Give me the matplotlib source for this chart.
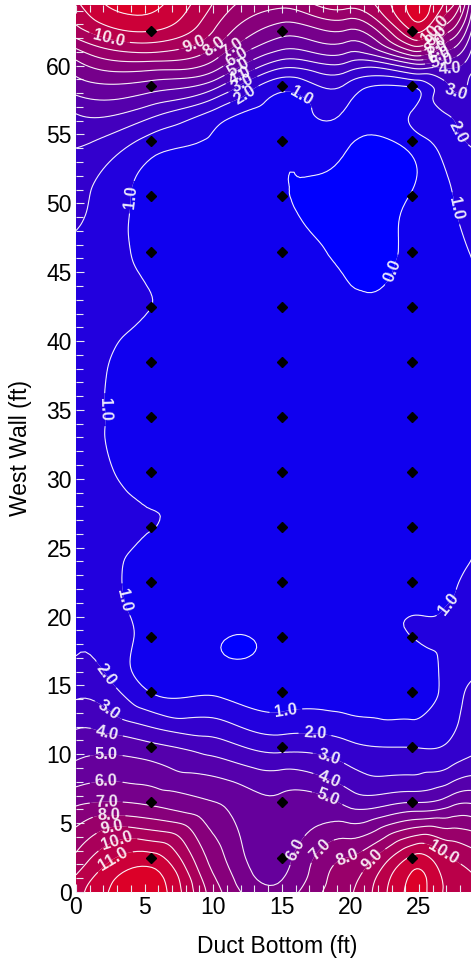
import matplotlib
matplotlib.use("Agg")
import matplotlib.pyplot as plt
import matplotlib.tri as mtri
import numpy as np
from matplotlib.colors import LinearSegmentedColormap, Normalize
from matplotlib.ticker import FixedLocator, MultipleLocator


# sampling locations (ft)
well_x = [5.5, 15.0, 24.5]
well_y = [2.5, 6.5, 10.5, 14.5, 18.5, 22.5, 26.5, 30.5,
          34.5, 38.5, 42.5, 46.5, 50.5, 54.5, 58.5, 62.5]

# gridded surface (rows = grid_y, cols = grid_x)
grid_x = [0.0, 5.5, 10.25, 15.0, 19.75, 24.5, 27.25, 30.0]
grid_y = [0.0, 2.5, 6.5, 10.5, 14.5, 18.5, 22.5, 26.5, 30.5, 34.5,
          38.5, 42.5, 46.5, 50.5, 54.5, 56.5, 58.5, 60.5, 62.5, 64.5]
grid_z = [
    [10.6, 12.6, 8.3, 6.4, 8.8, 12.3, 10.7, 10.0],
    [9.2, 11.4, 7.4, 5.6, 8.0, 11.2, 10.0, 9.0],
    [6.8, 6.8, 6.0, 5.2, 4.75, 5.0, 5.6, 5.5],
    [4.6, 4.3, 3.5, 2.7, 2.3, 2.0, 2.2, 3.0],
    [2.8, 0.97, 0.85, 0.5, 0.45, 0.35, 1.5, 2.6],
    [1.8, 0.65, 0.08, 0.3, 0.3, 1.0, 1.2, 1.6],
    [1.5, 0.5, 0.35, 0.3, 0.3, 0.5, 0.9, 1.2],
    [1.4, 1.02, 0.35, 0.25, 0.3, 0.35, 0.7, 1.1],
    [1.35, 0.6, 0.3, 0.25, 0.3, 0.3, 0.7, 1.1],
    [1.25, 0.5, 0.3, 0.2, 0.25, 0.3, 0.7, 1.1],
    [1.3, 0.55, 0.3, 0.2, 0.25, 0.3, 0.7, 1.1],
    [1.5, 1.0, 0.35, 0.2, 0.2, 0.3, 0.7, 1.1],
    [1.8, 0.75, 0.35, 0.15, -0.15, 0.15, 0.75, 1.15],
    [2.3, 0.7, 0.4, 0.1, -0.35, 0.08, 0.95, 1.5],
    [3.2, 1.6, 0.8, 0.3, 0.2, 0.45, 1.6, 2.0],
    [4.0, 3.3, 1.6, 0.6, 0.8, 1.1, 2.1, 1.8],
    [5.5, 5.5, 4.2, 1.3, 1.8, 1.1, 3.0, 1.5],
    [7.1, 8.3, 7.0, 4.1, 4.4, 6.2, 5.0, 1.3],
    [9.6, 11.0, 8.8, 6.4, 6.9, 11.0, 8.0, 1.2],
    [10.8, 12.3, 9.8, 8.3, 9.5, 12.3, 10.5, 1.2],
]

line_levels = list(range(0, 13))
fill_levels = list(range(-1, 15))
x_ticks = [0, 5, 10, 15, 20, 25]

# contour labels: (level, x, y) near where each one sits on the map
label_spots = [
    (10, 2.5, 62.3), (9, 8.6, 61.6), (8, 10.0, 61.5), (7, 11.0, 61.8),
    (6, 11.5, 61.0), (5, 11.8, 60.0), (4, 12.0, 59.2), (3, 12.3, 58.4),
    (2, 12.5, 57.6), (1, 16.5, 58.0),
    (10, 26.2, 62.6), (9, 26.4, 62.0), (8, 26.6, 61.2), (7, 26.8, 60.4),
    (6, 26.9, 59.6), (5, 27.0, 58.8), (4, 27.1, 58.0), (3, 27.2, 57.2),
    (2, 27.2, 55.0),
    (1, 3.0, 50.5), (1, 1.7, 35.0), (1, 2.3, 21.0), (0, 22.0, 45.5),
    (1, 28.0, 49.7), (1, 27.4, 20.6),
    (2, 1.8, 15.5), (3, 2.1, 12.8), (4, 2.2, 11.4), (5, 2.2, 9.9),
    (6, 2.2, 8.0), (7, 2.2, 6.7), (8, 2.4, 5.6), (9, 2.6, 4.7),
    (10, 3.0, 3.6), (11, 2.8, 2.3),
    (1, 15.2, 13.6), (2, 17.4, 11.2), (3, 18.3, 9.4), (4, 18.3, 7.9),
    (5, 18.1, 6.3), (6, 16.5, 2.8), (7, 18.4, 2.5), (8, 19.8, 2.5),
    (9, 21.2, 2.8), (10, 26.6, 2.6),
]

plt.rcParams["font.family"] = ["Liberation Sans", "DejaVu Sans"]

gx, gy = np.meshgrid(grid_x, grid_y)
z = np.array(grid_z).ravel()
tri = mtri.Triangulation(gx.ravel(), gy.ravel())
interp = mtri.CubicTriInterpolator(tri, z, kind="min_E")
fine_tri, fine_z = mtri.UniformTriRefiner(tri).refine_field(
    z, triinterpolator=interp, subdiv=4)

cmap = LinearSegmentedColormap.from_list("bluered", ["#0000ff", "#dc0028"])
norm = Normalize(vmin=-0.5, vmax=12.5)

fig = plt.figure(figsize=(4.71, 9.59), dpi=100)
ax = fig.add_axes([76 / 471, 67 / 959, 411.6 / 471, 887 / 959])

ax.tricontourf(fine_tri, fine_z, levels=fill_levels, cmap=cmap, norm=norm,
               antialiased=True)

# one contour set per level so each label lands on its own line
with plt.rc_context({"font.weight": "bold"}):
    for level in line_levels:
        cs = ax.tricontour(fine_tri, fine_z, levels=[level], colors="white",
                           linewidths=0.8, alpha=0.9)
        spots = [(lx, ly) for lv, lx, ly in label_spots if lv == level]
        if spots:
            ax.clabel(cs, manual=spots, inline=True, fmt="%.1f",
                      fontsize=12, colors="white")

px, py = np.meshgrid(well_x, well_y)
ax.plot(px.ravel(), py.ravel(), "D", color="black", markersize=5.5,
        linestyle="none")

ax.set_xlim(0, 30)
ax.set_ylim(0, 64.4)
ax.xaxis.set_major_locator(FixedLocator(x_ticks))
ax.yaxis.set_major_locator(MultipleLocator(5))
ax.xaxis.set_minor_locator(MultipleLocator(1))
ax.yaxis.set_minor_locator(MultipleLocator(1))
ax.tick_params(which="both", direction="in", top=True, right=False,
               color="#e8e8f0", labelsize=16.5, pad=3)
ax.tick_params(which="major", length=6, width=0.8)
ax.tick_params(which="minor", length=5, width=0.8)
for spine in ax.spines.values():
    spine.set_visible(False)

ax.set_xlabel("Duct Bottom (ft)", fontsize=16.5, labelpad=14)
ax.xaxis.set_label_coords(0.488, -0.048)
ax.set_ylabel("West Wall (ft)", fontsize=16.5, labelpad=10)

fig.savefig("out.png", dpi=100)
